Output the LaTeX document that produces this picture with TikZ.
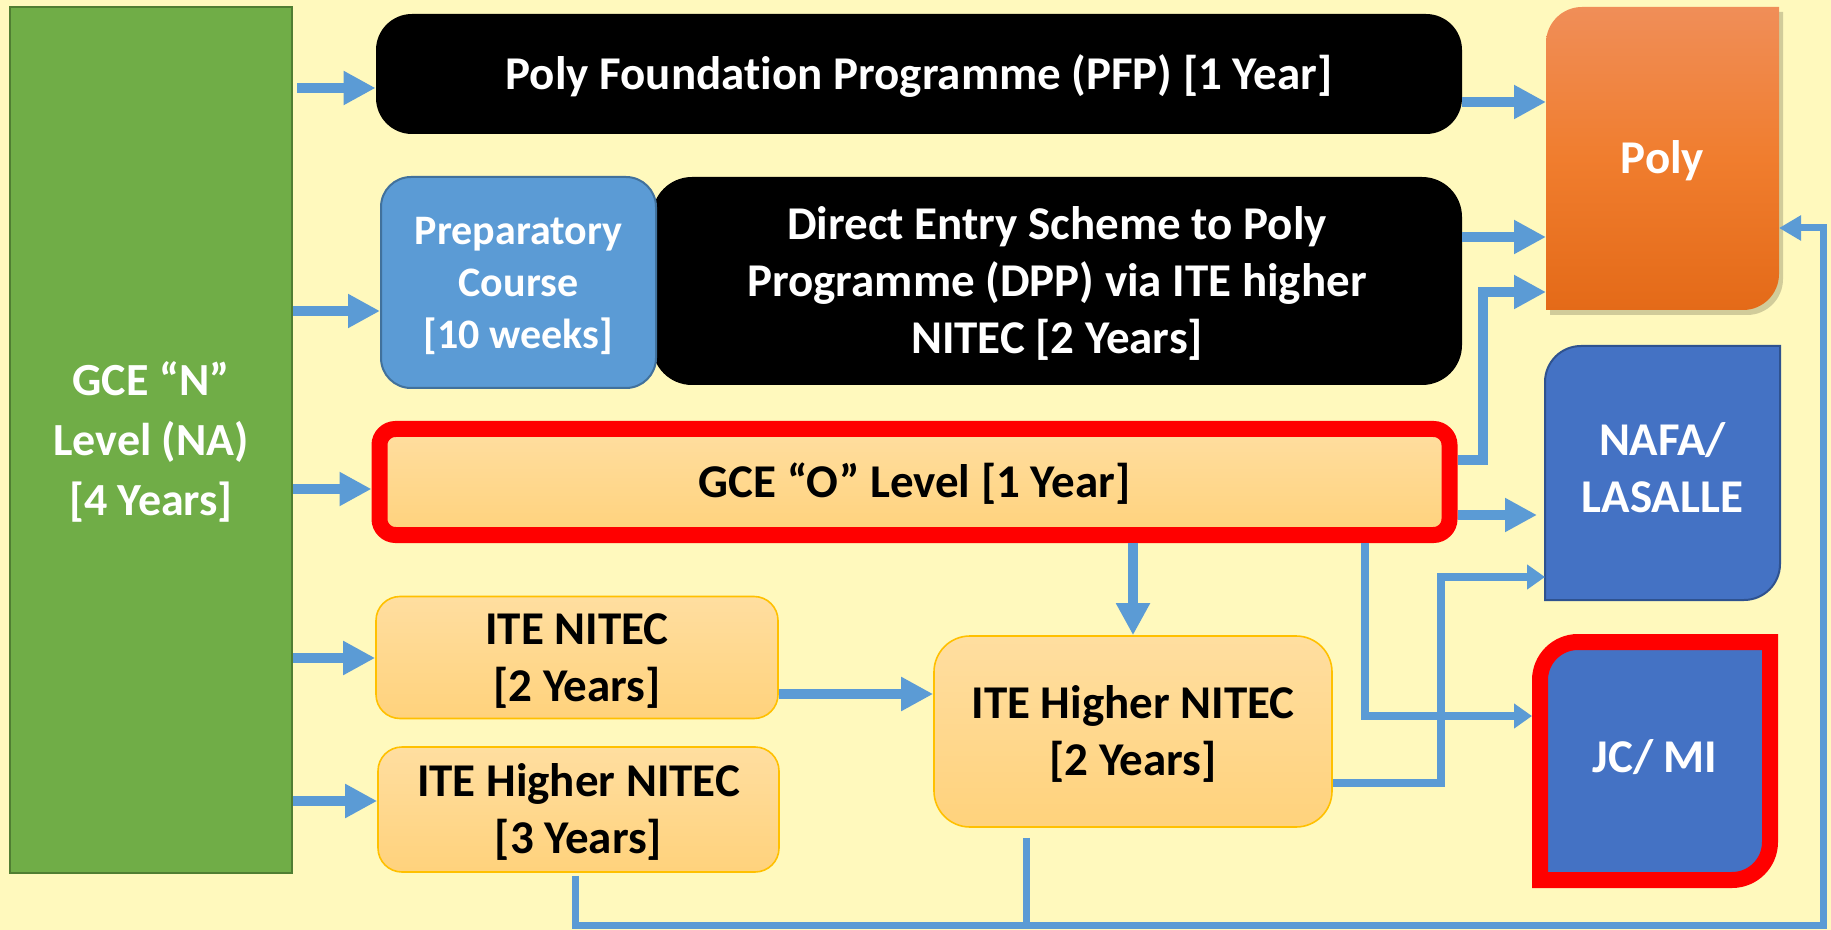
\documentclass[tikz,border=0pt]{standalone}
\usepackage{fontspec}
\setmainfont{Carlito}[Ligatures=NoCommon]
\usetikzlibrary{arrows.meta,calc}
\definecolor{bgy}{HTML}{FFF9BD}
\definecolor{grn}{HTML}{70AD47}
\definecolor{grnd}{HTML}{507E32}
\definecolor{lineblue}{HTML}{5B9BD5}
\definecolor{prepb}{HTML}{5B9BD5}
\definecolor{prepd}{HTML}{41719C}
\definecolor{blu}{HTML}{4472C4}
\definecolor{blud}{HTML}{2F528F}
\definecolor{orT}{HTML}{FFDEA0}
\definecolor{orB}{HTML}{FFD27C}
\definecolor{goldb}{HTML}{FFC000}
\definecolor{polyT}{HTML}{F08E58}
\definecolor{polyM}{HTML}{F07D2E}
\definecolor{polyB}{HTML}{E46A18}
\definecolor{redb}{HTML}{FF0000}
\pgfdeclarelayer{back}
\pgfsetlayers{back,main}
% text block moved down by half of the extra height
\newcommand\tx[1]{\raisebox{0pt}[\dimexpr\height+4pt\relax][\depth]{\begin{tabular}{@{}c@{}}#1\end{tabular}}}
\newcommand\txz[1]{\begin{tabular}{@{}c@{}}#1\end{tabular}}
% diagonal rounded shape: #1 node, #2 radius, #3 inset
\newcommand\diagpath[3]{([xshift=#3,yshift=#3]#1.south west) -- ([xshift=#3,yshift=-#2-#3]#1.north west) arc[start angle=180,end angle=90,radius=#2] -- ([xshift=-#3,yshift=-#3]#1.north east) -- ([xshift=-#3,yshift=#2+#3]#1.south east) arc[start angle=0,end angle=-90,radius=#2] -- cycle}
\tikzset{
  bigtxt/.style={font=\fontsize{23.5pt}{28.5pt}\selectfont\bfseries},
  blackbox/.style={bigtxt, fill=black, text=white, rounded corners=18pt, inner sep=0pt},
  orbox/.style={bigtxt, top color=orT, bottom color=orB, draw=goldb, line width=0.8pt, rounded corners=12pt, inner sep=0pt, text=black},
  plainbox/.style={bigtxt, inner sep=0pt, outer sep=0pt, text=white},
  thk/.style={lineblue, line width=5pt, -{Triangle[length=16pt,width=16pt]}},
  thn/.style={lineblue, line width=4pt, -{Triangle[length=9pt,width=12pt]}},
  thn2/.style={lineblue, line width=3.5pt, -{Triangle[length=11pt,width=12pt]}},
}
\begin{document}
\begin{tikzpicture}[x=0.5pt,y=0.5pt]
\useasboundingbox (0,0) rectangle (1831,-930);
% nodes
\node[bigtxt, fill=grn, draw=grnd, line width=1pt, text=white, minimum width=141pt, minimum height=433pt, inner sep=0pt, font=\fontsize{23pt}{30pt}\selectfont\bfseries] (N) at (151,-440) {\tx{GCE “N”\\Level (NA)\\{}[4 Years]}};
\node[blackbox, minimum width=543pt, minimum height=60pt] (PFP) at (919,-74) {\tx{Poly Foundation Programme (PFP) [1 Year]}};
\node[blackbox, minimum width=405pt, minimum height=104pt, rounded corners=20pt] (DPP) at (1057,-281) {\tx{Direct Entry Scheme to Poly\\Programme (DPP) via ITE higher\\NITEC [2 Years]}};
\node[bigtxt, fill=prepb, draw=prepd, line width=1pt, text=white, rounded corners=15pt, minimum width=137.5pt, minimum height=105.5pt, inner sep=0pt, font=\fontsize{21pt}{26pt}\selectfont\bfseries] (prep) at (518.5,-282.5) {\tx{Preparatory\\Course\\{}[10 weeks]}};
\node[bigtxt, top color=orT, bottom color=orB, draw=redb, line width=8pt, rounded corners=8pt, minimum width=535pt, minimum height=53pt, inner sep=0pt] (O) at (914.5,-482) {\tx{GCE “O” Level [1 Year]}};
\node[orbox, minimum width=201pt, minimum height=60.5pt] (iten) at (577,-657.5) {\tx{ITE NITEC\\{}[2 Years]}};
\node[orbox, minimum width=200.5pt, minimum height=62.5pt] (iteh3) at (578.5,-809.5) {\tx{ITE Higher NITEC\\{}[3 Years]}};
\node[orbox, minimum width=199pt, minimum height=95.5pt, rounded corners=18pt] (iteh2) at (1133,-731.5) {\tx{ITE Higher NITEC\\{}[2 Years]}};
\node[plainbox, minimum width=116.5pt, minimum height=151.5pt] (poly) at (1662.5,-158.5) {\tx{Poly}};
\node[plainbox, minimum width=117.5pt, minimum height=127pt] (nafa) at (1662.5,-473) {\txz{NAFA/\\LASALLE}};
\node[plainbox, minimum width=123pt, minimum height=127pt] (jc) at (1655,-761) {\txz{JC/ MI}};
% shapes behind
\begin{pgfonlayer}{back}
\fill[bgy] (0,0) rectangle (1831,-930);
\fill[black, opacity=.18, transform canvas={shift={(2pt,-2.5pt)}}] \diagpath{poly}{18pt}{0pt};
\shade[top color=polyT, bottom color=polyB, middle color=polyM] \diagpath{poly}{18pt}{0pt};
\path[fill=blu, draw=blud, line width=1pt] \diagpath{nafa}{18pt}{0pt};
\path[fill=blu, draw=redb, line width=8pt] \diagpath{jc}{19pt}{4pt};
\end{pgfonlayer}
% connectors
\draw[thk, shorten <=2pt] (N.east |- 0,-88) -- (PFP.west |- 0,-88);
\draw[thk] (N.east |- 0,-311) -- (prep.west |- 0,-311);
\draw[thk] (N.east |- 0,-489) -- (O.west |- 0,-489);
\draw[thk] (N.east |- 0,-658) -- (iten.west |- 0,-658);
\draw[thk] (N.east |- 0,-801) -- (iteh3.west |- 0,-801);
\draw[thk] (PFP.east |- 0,-102) -- (poly.west |- 0,-102);
\draw[thk] (DPP.east |- 0,-237) -- (poly.west |- 0,-237);
\draw[thk] (O.east |- 0,-460) -| (1483,-292) -- (poly.west |- 0,-292);
\draw[thk, shorten >=4pt] (O.east |- 0,-515) -- (nafa.west |- 0,-515);
\draw[thk] (O.south -| iteh2.north) -- (iteh2.north);
\draw[thk] (iten.east |- 0,-694) -- (iteh2.west |- 0,-694);
\draw[thn] (O.south -| 1365,0) |- (jc.west |- 0,-716);
\draw[thn] (iteh2.east |- 0,-783) -| (1441,-577) -- (nafa.west |- 0,-577);
\draw[thn2, shorten <=1.5pt] (iteh3.south -| 575,0) -- (575,-925) -- (1823,-925) -- (1823,-228) -- (poly.east |- 0,-228);
\draw[lineblue, line width=3.5pt, shorten <=5pt] (iteh2.south -| 1026,0) -- (1026,-925);
\end{tikzpicture}
\end{document}
